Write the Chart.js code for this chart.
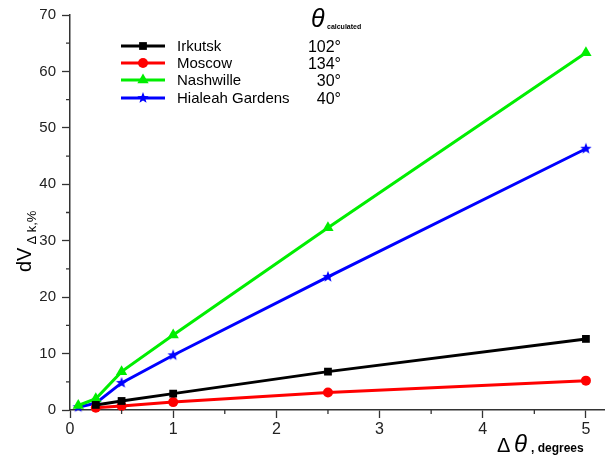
<!DOCTYPE html>
<html>
<head>
<meta charset="utf-8">
<script src="https://cdn.jsdelivr.net/npm/chart.js@4"></script>
<style>
  html, body { margin: 0; padding: 0; background: #fff; }
  #wrap { width: 611px; height: 459px; }
</style>
</head>
<body>
<div id="wrap"><canvas id="c" width="611" height="459"></canvas></div>
<script>
// data
const xSmall = [0.25, 0.5, 1, 2.5, 5];
const xAll = [0.08, 0.25, 0.5, 1, 2.5, 5];
const irkutsk = [0.9, 1.6, 2.9, 6.8, 12.6];
const moscow = [0.4, 0.7, 1.4, 3.1, 5.2];
const nashwille = [0.8, 2.0, 6.8, 13.3, 32.3, 63.3];
const hialeah = [0.5, 1.2, 4.8, 9.7, 23.6, 46.3];
const cityNames = ['Irkutsk', 'Moscow', 'Nashwille', 'Hialeah Gardens'];
const thetaCalc = ['102°', '134°', '30°', '40°'];

const FONT = '"Liberation Sans", Arial, sans-serif';

// filled five-point star for the blue series
function makeStar(color, r) {
  const cv = document.createElement('canvas');
  cv.width = cv.height = r * 2 + 2;
  const g = cv.getContext('2d');
  g.fillStyle = color;
  g.beginPath();
  for (let i = 0; i < 10; i++) {
    const rr = i % 2 === 0 ? r : r * 0.42;
    const a = -Math.PI / 2 + i * Math.PI / 5;
    g.lineTo(r + 1 + rr * Math.cos(a), r + 1 + rr * Math.sin(a));
  }
  g.closePath();
  g.fill();
  return cv;
}
const star = makeStar('#0000ff', 6);

const pts = (xs, ys) => ys.map((y, i) => ({ x: xs[i], y }));

const series = [
  { label: cityNames[0], data: pts(xSmall, irkutsk), color: '#000000', style: 'rect', radius: 5.5 },
  { label: cityNames[1], data: pts(xSmall, moscow), color: '#ff0000', style: 'circle', radius: 5 },
  { label: cityNames[2], data: pts(xAll, nashwille), color: '#00ee00', style: 'triangle', radius: 6.5 },
  { label: cityNames[3], data: pts(xAll, hialeah), color: '#0000ff', style: star, radius: 6 },
];

const minorTicks = {
  id: 'minorTicks',
  afterDraw(chart) {
    const { ctx, scales: { x, y }, chartArea: a } = chart;
    ctx.save();
    ctx.strokeStyle = '#333';
    ctx.lineWidth = 1.3;
    ctx.beginPath();
    for (let v = 5; v < 70; v += 10) {
      const py = y.getPixelForValue(v);
      ctx.moveTo(a.left, py); ctx.lineTo(a.left - 4, py);
    }
    for (let v = 0.5; v < 5.2; v += 1) {
      const px = x.getPixelForValue(v);
      ctx.moveTo(px, a.bottom); ctx.lineTo(px, a.bottom + 4);
    }
    ctx.stroke();
    ctx.restore();
  }
};

const labelsAndLegend = {
  id: 'labelsAndLegend',
  afterDraw(chart) {
    const ctx = chart.ctx;
    ctx.save();
    ctx.fillStyle = '#000';
    ctx.textBaseline = 'alphabetic';

    // y axis title
    ctx.save();
    ctx.translate(31, 272);
    ctx.rotate(-Math.PI / 2);
    ctx.textAlign = 'left';
    ctx.font = '20px ' + FONT;
    ctx.fillText('dV', 0, 0);
    const w = ctx.measureText('dV').width;
    ctx.font = '13px ' + FONT;
    ctx.fillText('\u0394 k,%', w + 3, 5);
    ctx.restore();

    // x axis title
    ctx.textAlign = 'left';
    ctx.font = '20px ' + FONT;
    ctx.fillText('\u0394', 497, 452);
    ctx.font = 'italic 24px ' + FONT;
    ctx.fillText('\u03b8', 514, 452);
    ctx.font = 'bold 12px ' + FONT;
    ctx.fillText(', degrees', 531, 452);

    // legend
    const rows = [46, 63, 80, 98];
    series.forEach((s, i) => {
      const yy = rows[i];
      ctx.strokeStyle = s.color;
      ctx.lineWidth = 3;
      ctx.beginPath();
      ctx.moveTo(121, yy); ctx.lineTo(165, yy);
      ctx.stroke();
      ctx.fillStyle = s.color;
      Chart.helpers.drawPoint(ctx, { pointStyle: s.style, radius: s.radius, rotation: 0, borderWidth: 0 }, 143, yy);
      ctx.fillStyle = '#000';
      ctx.font = '15px ' + FONT;
      ctx.textAlign = 'left';
      ctx.fillText(s.label, 177, yy + 5);
      ctx.font = '16px ' + FONT;
      ctx.textAlign = 'right';
      ctx.fillText(thetaCalc[i], 341, yy + 6);
    });
    ctx.textAlign = 'left';
    ctx.font = 'italic 25px ' + FONT;
    ctx.fillText('\u03b8', 311, 27);
    ctx.font = 'bold 7px ' + FONT;
    ctx.fillText('calculated', 327, 29);
    ctx.restore();
  }
};

new Chart(document.getElementById('c'), {
  type: 'line',
  data: {
    datasets: series.map(s => ({
      label: s.label,
      data: s.data,
      borderColor: s.color,
      backgroundColor: s.color,
      borderWidth: 3,
      pointStyle: s.style,
      pointRadius: s.radius,
      pointBorderWidth: 0,
      pointBackgroundColor: s.color,
      tension: 0,
      clip: false
    }))
  },
  plugins: [minorTicks, labelsAndLegend],
  options: {
    responsive: false,
    animation: false,
    layout: { padding: { top: 10, right: 1, left: 0, bottom: 0 } },
    plugins: { legend: { display: false }, tooltip: { enabled: false } },
    scales: {
      x: {
        type: 'linear',
        min: 0,
        max: 5.18,
        afterFit(s) { s.height = 49; },
        ticks: {
          stepSize: 1,
          includeBounds: false,
          padding: 2,
          color: '#222',
          font: { family: FONT, size: 16 },
          callback: v => Number.isInteger(v) ? String(v) : ''
        },
        grid: { drawOnChartArea: false, drawTicks: true, tickLength: 8, tickColor: '#333', tickWidth: 1.3 },
        border: { display: true, color: '#333', width: 1.5 }
      },
      y: {
        type: 'linear',
        min: 0,
        max: 70,
        afterFit(s) { s.width = 70; },
        ticks: {
          stepSize: 10,
          padding: 6,
          color: '#222',
          font: { family: FONT, size: 15 }
        },
        grid: { drawOnChartArea: false, drawTicks: true, tickLength: 8, tickColor: '#333', tickWidth: 1.3 },
        border: { display: true, color: '#333', width: 1.5 }
      }
    }
  }
});
</script>
</body>
</html>
